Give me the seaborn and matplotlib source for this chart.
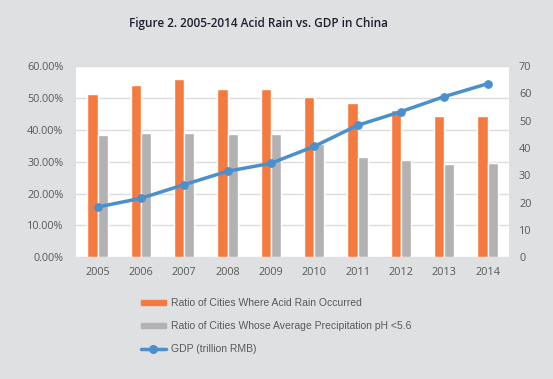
import numpy as np
import pandas as pd
import matplotlib.pyplot as plt
import seaborn as sns
from matplotlib.patches import Patch
from matplotlib.lines import Line2D

years = ['2005', '2006', '2007', '2008', '2009', '2010', '2011', '2012', '2013', '2014']
acid_rain = [51.2, 53.9, 56.0, 52.7, 52.8, 50.4, 48.4, 46.1, 44.2, 44.2]
ph_below = [38.3, 38.9, 39.1, 38.6, 38.6, 35.6, 31.6, 30.4, 29.4, 29.5]
gdp = [18.4, 21.6, 26.6, 31.5, 34.4, 40.6, 48.3, 53.3, 58.8, 63.5]

lab_acid = 'Ratio of Cities Where Acid Rain Occurred'
lab_ph = 'Ratio of Cities Whose Average Precipitation pH <5.6'
lab_gdp = 'GDP (trillion RMB)'

orange = '#f47a3f'
grey = '#b3b1b1'
blue = '#4b8fcb'
bg = '#dfe0e2'
tick_col = '#595959'

sns.set_style('white')
plt.rcParams['font.family'] = ['Open Sans', 'DejaVu Sans']

df = pd.DataFrame({'year': years * 2,
                   'ratio': acid_rain + ph_below,
                   'series': [lab_acid] * 10 + [lab_ph] * 10})

fig = plt.figure(figsize=(5.53, 3.79), dpi=100, facecolor=bg)
ax = fig.add_axes([0.1374, 0.321, 0.7836, 0.505])
ax.set_facecolor('white')

sns.barplot(data=df, x='year', y='ratio', hue='series', order=years,
            palette=[orange, grey], width=0.47, saturation=1,
            legend=False, ax=ax)
ax.set_ylim(0, 60)
ax.set_xlim(-0.5, 9.5)
ax.set_yticks(np.arange(0, 61, 10))
ax.set_yticklabels(['{:.2f}%'.format(v) for v in np.arange(0, 61, 10)])
ax.yaxis.grid(True, color='#dcdcdc', linewidth=1)
ax.set_axisbelow(True)
for s in ax.spines.values():
    s.set_visible(False)
ax.set_xlabel('')
ax.set_ylabel('')
ax.tick_params(axis='y', length=0, pad=9, labelsize=7.8, labelcolor=tick_col)
ax.tick_params(axis='x', length=0, pad=7, labelsize=7.8, labelcolor=tick_col)

ax2 = ax.twinx()
sns.lineplot(x=np.arange(len(years)), y=gdp, color=blue, linewidth=2.5,
             marker='o', markersize=5.5, markeredgecolor=blue, ax=ax2)
ax2.set_ylim(0, 70)
ax2.set_yticks(np.arange(0, 71, 10))
for s in ax2.spines.values():
    s.set_visible(False)
ax2.tick_params(axis='y', length=0, pad=7, labelsize=7.8, labelcolor=tick_col)

handles = [Patch(color=orange), Patch(color=grey),
           Line2D([0], [0], color=blue, linewidth=2.5, marker='o', markersize=5.5)]
fig.legend(handles, [lab_acid, lab_ph, lab_gdp], loc='upper left',
           bbox_to_anchor=(0.238, 0.238), frameon=False, handlelength=2.4,
           handleheight=0.5, handletextpad=0.5, labelspacing=1.25,
           prop={'family': 'Liberation Sans', 'size': 7.5}, labelcolor=tick_col)

fig.text(0.467, 0.937, 'Figure 2. 2005-2014 Acid Rain vs. GDP in China',
         ha='center', va='center', fontsize=8.5, fontweight='semibold',
         color='#1f1f2e')

fig.savefig('out.png', dpi=100, facecolor=bg)
